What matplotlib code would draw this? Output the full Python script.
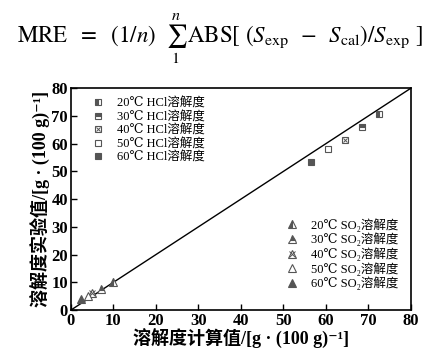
import matplotlib.pyplot as plt
from matplotlib.lines import Line2D
from matplotlib.legend_handler import HandlerTuple

plt.rcParams['font.family'] = ['Liberation Serif', 'DejaVu Serif', 'Noto Sans CJK SC']
plt.rcParams['mathtext.fontset'] = 'stix'

temps = ['20', '30', '40', '50', '60']
hcl_calc = [72.6, 68.4, 64.4, 60.4, 56.4]
hcl_exp = [70.6, 65.9, 61.3, 58.0, 53.3]
so2_calc = [10.0, 7.0, 5.0, 4.0, 2.5]
so2_exp = [10.0, 7.5, 6.0, 5.0, 4.0]

gray = '#555555'
ms = 5


def marker_handle(m, kind, size):
    base = dict(marker=m, markersize=size, linestyle='none', color=gray,
                markeredgecolor=gray, markeredgewidth=0.8)
    if kind == 'left':
        return (Line2D([], [], fillstyle='left', markerfacecoloralt='white', **base),)
    if kind == 'top':
        return (Line2D([], [], fillstyle='top', markerfacecoloralt='white', **base),)
    if kind == 'cross':
        return (Line2D([], [], markerfacecolor='white', **base),
                Line2D([], [], marker='x', markersize=size * 0.7, linestyle='none',
                       color=gray, markeredgewidth=0.7))
    if kind == 'open':
        return (Line2D([], [], markerfacecolor='white', **base),)
    return (Line2D([], [], markerfacecolor=gray, **base),)


def draw(ax, x, y, parts):
    for part in parts:
        ax.plot([x], [y], marker=part.get_marker(),
                markersize=part.get_markersize(), linestyle='none',
                color=part.get_color(), markeredgecolor=part.get_markeredgecolor(),
                markerfacecolor=part.get_markerfacecolor(),
                fillstyle=part.get_fillstyle(),
                markerfacecoloralt=part.get_markerfacecoloralt(),
                markeredgewidth=part.get_markeredgewidth())


kinds = ['left', 'top', 'cross', 'open', 'full']

fig = plt.figure(figsize=(4.4, 3.54), dpi=100)
ax = fig.add_axes([0.161, 0.124, 0.773, 0.627])

ax.plot([0, 80], [0, 80], color='black', linewidth=1.0)

hcl_handles = []
so2_handles = []
for i, k in enumerate(kinds):
    h = marker_handle('s', k, ms)
    draw(ax, hcl_calc[i], hcl_exp[i], h)
    hcl_handles.append(h)
    h2 = marker_handle('^', k, ms + 1)
    draw(ax, so2_calc[i], so2_exp[i], h2)
    so2_handles.append(h2)

hcl_labels = [f'{t}℃ HCl溶解度' for t in temps]
so2_labels = [f'{t}℃ SO₂溶解度' for t in temps]

hmap = {tuple: HandlerTuple(ndivide=1, pad=0)}
leg1 = ax.legend(hcl_handles, hcl_labels, loc='upper left', frameon=False,
                 fontsize=9, handler_map=hmap,
                 bbox_to_anchor=(0.03, 0.99), labelspacing=0.12, handlelength=1.5,
                 handletextpad=0.8, borderaxespad=0.2)
ax.add_artist(leg1)
ax.legend(so2_handles, so2_labels, loc='lower right', frameon=False,
          fontsize=9, handler_map=hmap,
          bbox_to_anchor=(0.985, 0.055), labelspacing=0.08, handlelength=1.5,
          handletextpad=0.8, borderaxespad=0.2)

ax.set_xlim(0, 80)
ax.set_ylim(0, 80)
ax.set_xticks(range(0, 81, 10))
ax.set_yticks(range(0, 81, 10))
ax.tick_params(direction='in', length=4, width=1, labelsize=12, pad=2)
for lab in ax.get_xticklabels() + ax.get_yticklabels():
    lab.set_fontweight('bold')
for s in ax.spines.values():
    s.set_linewidth(1.2)

ax.set_xlabel('溶解度计算值/[g · (100 g)⁻¹]', fontsize=13, fontweight='bold', labelpad=0)
ax.set_ylabel('溶解度实验值/[g · (100 g)⁻¹]', fontsize=13, fontweight='bold', labelpad=0)

fig.text(0.5, 0.89,
         r'$\mathrm{MRE}\ \ =\ \ (1/n)\ \ \sum_{1}^{n}\,\mathrm{ABS}[\ (S_{\mathrm{exp}}\;\;-\;\;S_{\mathrm{cal}})/S_{\mathrm{exp}}\ ]$',
         ha='center', va='center', fontsize=16.5)

fig.savefig('out.png', dpi=100)
